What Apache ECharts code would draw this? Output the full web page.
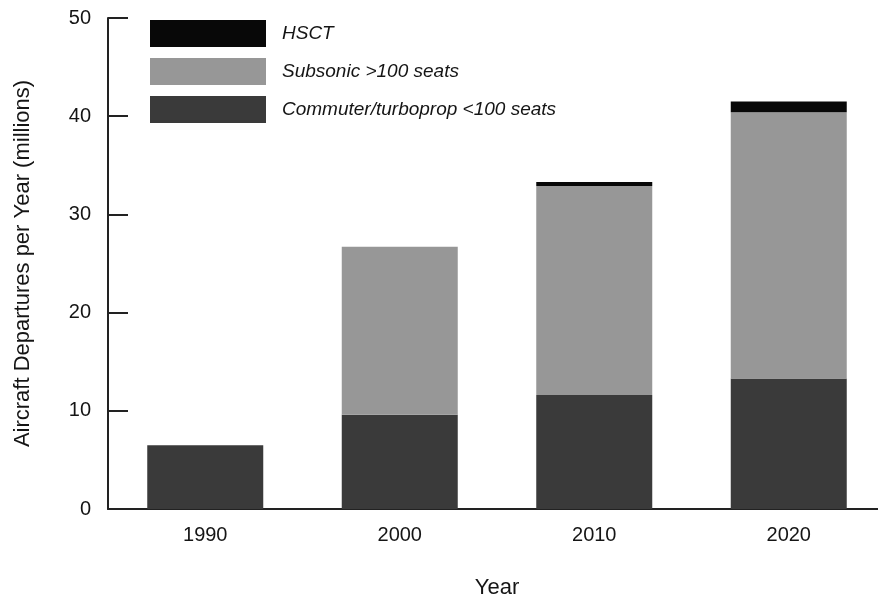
<!DOCTYPE html>
<html>
<head>
<meta charset="UTF-8">
<title>Aircraft Departures per Year</title>
<script type="text/javascript" src="https://cdn.jsdelivr.net/npm/echarts@6/dist/echarts.min.js"></script>
<style type="text/css">
	body{ margin:0; background:#fff; }
	#main{ width:878px; height:596px; }
</style>
</head>
<body>
	<div id="main"></div>
<script type="text/javascript">
	// data (millions)
	var years = ['1990', '2000', '2010', '2020'];
	var commuter = [6.5, 9.6, 11.6, 13.3];
	var subsonic = [0, 17.1, 21.3, 27.1];
	var hsct = [0, 0, 0.4, 1.1];
	var yTicks = [0, 10, 20, 30, 40, 50];

	var myChart = echarts.init(document.getElementById('main'));
	var font = 'Liberation Sans, Arial, sans-serif';

	var option = {
		animation: false,
		backgroundColor: '#fff',
		grid: { left: 108, top: 18, width: 778, height: 491, outerBoundsMode: 'none', containLabel: false },
		legend: {
			orient: 'vertical',
			left: 145,
			top: 15,
			itemWidth: 116,
			itemHeight: 27,
			itemGap: 11,
			icon: 'rect',
			selectedMode: false,
			data: ['HSCT', 'Subsonic >100 seats', 'Commuter/turboprop <100 seats'],
			textStyle: { fontFamily: font, fontSize: 19, fontStyle: 'italic', color: '#151515', padding: [0, 0, 0, 11] }
		},
		xAxis: {
			type: 'category',
			data: years,
			name: 'Year',
			nameLocation: 'middle',
			nameGap: 68,
			nameTextStyle: { fontFamily: font, fontSize: 22, color: '#151515' },
			axisLine: { lineStyle: { color: '#222', width: 2 } },
			axisTick: { show: false },
			axisLabel: { fontFamily: font, fontSize: 20, color: '#151515', margin: 16 }
		},
		yAxis: {
			type: 'value',
			min: yTicks[0],
			max: yTicks[yTicks.length - 1],
			interval: 10,
			name: 'Aircraft Departures per Year (millions)',
			nameLocation: 'middle',
			nameGap: 74,
			nameTextStyle: { fontFamily: font, fontSize: 22, color: '#151515' },
			axisLine: { show: true, lineStyle: { color: '#222', width: 2 } },
			axisTick: { show: true, inside: true, length: 20, lineStyle: { color: '#222', width: 2 } },
			axisLabel: { fontFamily: font, fontSize: 20, color: '#151515', margin: 17 },
			splitLine: { show: false }
		},
		series: [{
			name: 'Commuter/turboprop <100 seats',
			type: 'bar',
			stack: 'total',
			barWidth: 116,
			itemStyle: { color: '#3a3a3a' },
			data: commuter
		}, {
			name: 'Subsonic >100 seats',
			type: 'bar',
			stack: 'total',
			barWidth: 116,
			itemStyle: { color: '#979797' },
			data: subsonic
		}, {
			name: 'HSCT',
			type: 'bar',
			stack: 'total',
			barWidth: 116,
			itemStyle: { color: '#080808' },
			data: hsct
		}]
	};

	myChart.setOption(option);
</script>
</body>
</html>
